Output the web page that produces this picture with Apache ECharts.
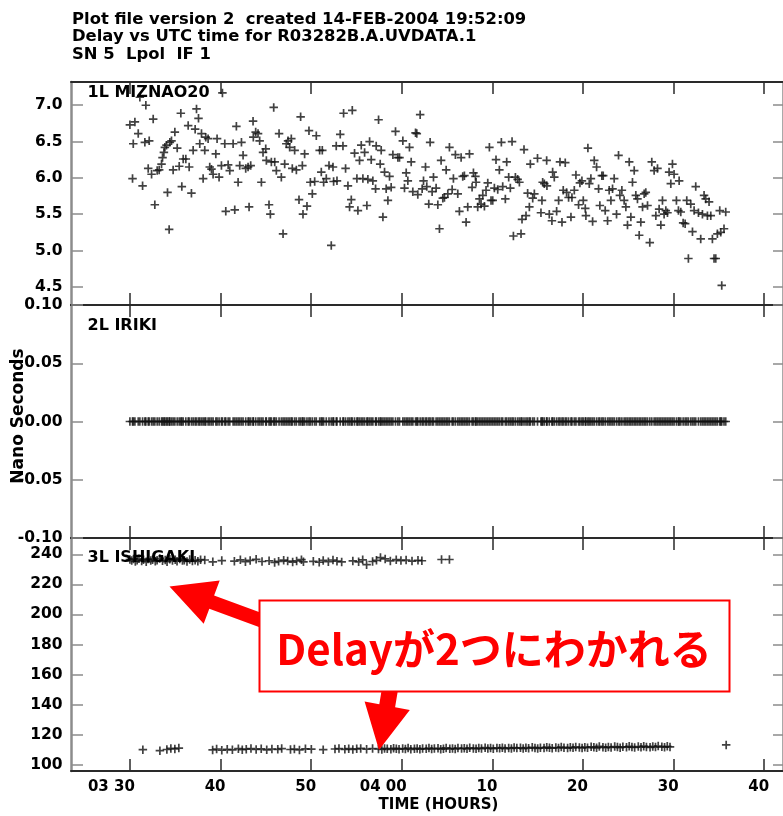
<!DOCTYPE html>
<html>
<head>
<meta charset="utf-8">
<script src="https://cdn.jsdelivr.net/npm/echarts@6/dist/echarts.min.js"></script>
<style>
  html, body { margin: 0; padding: 0; background: #ffffff; }
  #chart { width: 783px; height: 816px; }
</style>
</head>
<body>
<div id="chart"></div>
<script>
// Time axis is in minutes after 03:00 UTC.
const timeTicks = [30, 40, 50, 60, 70, 80, 90, 100];
const timeTickLabels = ['03 30', '40', '50', '04 00', '10', '20', '30', '40'];

// Panel 1: MIZNAO20 delay solutions (ns)
const mizTimes = [
  30.00,30.29,30.37,30.55,30.92,31.10,31.40,31.65,31.76,32.02,
  32.13,32.39,32.57,32.75,33.01,33.23,33.49,33.60,33.75,33.86,
  34.04,34.15,34.33,34.41,34.59,34.77,34.96,35.22,35.44,35.62,
  35.73,35.88,36.17,36.43,36.54,36.79,36.98,37.20,37.35,37.57,
  37.71,37.90,38.08,38.26,38.37,38.63,38.81,39.00,39.18,39.48,
  39.62,39.84,40.10,40.21,40.47,40.58,40.84,41.02,41.39,41.57,
  41.75,41.94,42.12,42.31,42.49,42.78,43.04,43.15,43.33,43.59,
  43.62,43.88,44.14,44.32,44.51,44.69,44.99,45.06,45.35,45.50,
  45.61,45.87,45.98,46.16,46.46,46.71,46.90,47.08,47.26,47.45,
  47.63,47.81,47.92,48.18,48.37,48.66,48.84,49.03,49.10,49.28,
  49.54,49.76,49.91,50.13,50.39,50.57,50.94,51.12,51.23,51.38,
  51.67,51.97,
  52.22,52.41,52.48,52.77,52.85,53.21,53.51,53.58,53.80,54.06,
  54.24,54.43,54.54,54.79,55.05,55.16,55.34,55.53,55.71,55.90,
  56.15,56.26,56.45,56.63,56.81,57.11,57.18,57.44,57.62,57.73,
  57.92,58.10,58.28,58.47,58.65,58.83,59.02,59.31,59.57,59.75,
  60.12,60.30,60.49,60.67,60.85,61.04,61.22,61.52,61.66,61.77,
  62.03,62.25,62.40,62.62,62.76,62.98,63.13,63.35,63.50,63.79,
  63.98,64.16,64.34,64.53,64.71,64.90,65.08,65.26,65.56,65.70,
  65.92,66.18,66.36,66.55,66.73,66.91,67.10,67.28,67.47,67.76,
  67.91,68.13,68.20,68.38,68.57,68.75,68.94,69.12,69.30,69.49,
  69.67,69.85,70.04,70.22,70.40,70.59,70.77,70.99,71.14,71.43,
  71.58,71.80,71.98,72.17,72.32,72.54,72.79,72.98,73.16,73.27,
  73.49,73.71,73.89,74.08,74.19,74.45,74.63,74.98,
  75.36,75.47,75.55,75.73,75.99,76.02,76.28,76.57,76.65,76.83,
  77.09,77.31,77.46,77.68,77.82,78.04,78.19,78.41,78.67,78.78,
  79.04,79.22,79.51,79.66,79.88,80.03,80.25,80.32,80.54,80.69,
  80.87,81.06,81.24,81.50,81.72,81.86,82.08,82.23,82.45,82.71,
  82.89,83.08,83.26,83.44,83.70,83.92,84.07,84.29,84.54,84.73,
  84.91,85.10,85.28,85.46,85.65,85.83,86.01,86.20,86.38,86.57,
  86.75,86.93,87.12,87.37,87.59,87.85,88.04,88.22,88.40,88.59,
  88.77,88.95,89.14,89.32,89.50,89.69,89.87,90.05,90.31,90.53,
  90.61,90.79,91.05,91.27,91.45,91.63,91.89,92.08,92.26,92.44,
  92.74,92.99,93.18,93.36,93.54,93.73,93.91,94.10,94.28,94.46,
  94.65,94.83,95.09,95.20,95.31,95.56,95.75
];
const mizDelay = [
  6.73,5.99,6.47,6.77,6.61,7.11,5.89,6.49,7.00,6.13,
  6.51,6.05,6.81,5.63,6.10,6.11,6.19,6.28,6.35,6.42,
  6.45,5.80,5.29,6.49,6.51,6.11,6.63,6.41,6.16,6.89,
  5.88,6.26,6.26,6.72,6.15,5.79,6.38,6.67,6.95,6.82,
  6.47,6.61,5.99,6.38,6.56,6.54,6.15,6.12,6.05,6.33,
  6.54,6.01,6.17,7.17,6.47,5.54,6.18,6.10,6.47,5.56,
  6.71,5.94,6.17,6.49,6.31,6.13,6.15,5.60,6.17,6.78,
  6.56,6.63,6.61,6.51,5.94,6.35,6.40,6.24,5.63,5.50,
  6.22,6.97,6.22,6.10,6.61,6.01,5.23,6.19,6.47,6.51,
  6.42,6.54,6.13,6.38,6.11,5.70,6.84,6.17,5.50,6.33,
  5.61,6.65,5.94,5.78,5.95,6.58,6.38,6.08,6.38,5.94,
  5.99,6.17,
  5.07,6.15,5.95,6.44,5.96,6.60,6.44,6.89,6.13,5.89,
  5.60,5.70,6.93,6.34,5.99,5.55,6.24,6.45,5.99,6.35,
  5.62,5.98,6.50,6.25,5.96,5.85,6.44,6.80,6.19,6.38,
  5.46,6.08,5.85,5.69,6.02,5.87,6.32,6.64,6.28,6.28,
  6.51,5.86,6.07,5.96,6.42,6.22,5.81,6.62,6.61,5.77,
  6.87,5.85,5.96,6.15,5.88,5.64,6.49,5.81,6.01,5.86,
  5.63,5.30,6.24,5.72,5.73,6.11,5.78,6.42,5.84,5.99,
  6.32,5.78,5.54,6.28,6.02,6.03,5.39,5.60,6.33,5.87,
  6.07,6.02,5.94,5.60,5.71,5.64,5.76,5.61,5.83,5.93,
  6.42,5.69,5.69,5.86,6.25,5.84,6.11,6.49,5.88,5.71,
  6.22,6.01,5.86,6.50,5.20,6.01,5.98,5.94,5.23,5.43,
  6.39,5.48,5.79,5.60,6.19,5.72,5.78,6.27,
  5.52,5.69,5.94,5.92,6.24,5.89,5.50,5.41,6.08,6.01,
  5.54,5.69,6.22,5.39,5.83,6.21,5.80,5.73,5.46,5.73,
  5.83,6.04,5.63,5.93,5.96,5.69,5.58,5.48,6.41,5.92,
  5.99,5.40,6.24,6.15,5.85,5.62,6.03,6.03,5.55,5.41,
  5.83,5.69,5.85,5.99,5.50,6.31,5.76,5.83,5.69,5.60,
  5.35,6.22,5.46,5.94,6.10,5.76,5.71,5.21,5.39,5.60,
  5.78,5.80,5.62,5.11,6.22,6.10,5.48,6.13,5.57,5.35,
  5.69,5.50,5.55,5.52,6.08,5.92,6.19,6.05,5.69,5.55,
  5.96,5.53,5.38,5.37,5.69,4.89,5.64,5.26,5.55,5.88,
  5.52,5.16,5.50,5.76,5.71,5.48,5.67,5.48,5.16,4.89,
  4.89,5.23,5.55,5.25,4.52,5.30,5.53
];

// Panel 2: IRIKI is the reference antenna, so its delay is zero at every solution time
const irikiDelay = 0;

// Panel 3: ISHIGAKI delays split into two groups
const ishiUpperTimes = [
  30.0,30.2,30.4,30.6,30.8,31.0,31.3,31.5,31.8,32.0,
  32.3,32.5,32.8,33.0,33.3,33.6,33.9,34.1,34.4,34.7,
  35.0,35.2,35.5,35.8,36.0,36.3,36.6,36.9,37.2,37.5,
  37.8,38.26,39.15,40.14,41.53,42.19,42.75,43.27,43.93,44.58,
  45.36,45.97,46.41,46.97,47.41,47.96,48.40,48.93,49.15,50.24,
  50.89,51.33,51.90,52.41,52.85,53.37,54.60,55.24,55.69,56.12,
  56.78,57.21,57.65,58.17,58.74,59.39,59.91,60.48,61.13,61.79,
  62.22,64.39,65.26
];
const ishiUpperDelay = [
  236.5,235.8,236.9,235.2,236.1,237.0,235.6,236.3,235.0,236.8,
  235.9,236.4,235.3,236.0,237.2,235.7,236.2,235.1,236.6,235.8,
  236.3,235.4,236.9,235.9,236.1,235.2,236.5,235.6,236.0,235.3,
  236.4,236.2,235.0,235.8,235.4,236.3,235.1,235.9,236.6,235.2,
  235.7,234.6,235.3,236.1,235.5,234.8,235.6,236.4,235.0,235.3,
  234.7,235.9,235.1,236.2,235.4,234.9,235.6,235.0,236.3,233.1,
  235.2,236.0,237.8,236.9,235.6,236.4,235.8,236.2,235.5,236.0,
  235.7,236.5,236.5
];
const ishiLowerTimes = [
  31.43,33.31,34.08,34.52,34.96,35.40,39.13,39.57,40.14,40.74,
  41.31,41.97,42.40,42.84,43.36,43.93,44.49,45.10,45.67,46.32,
  46.75,47.72,48.15,48.71,49.37,50.02,51.33,52.63,53.07,53.72,
  54.15,54.60,55.03,55.47,56.12,56.78,57.43,57.80,58.10,58.40,
  58.80,59.10,59.40,59.70,60.10,60.40,60.70,61.00,61.40,61.70,
  62.00,62.30,62.70,63.00,63.30,63.60,64.00,64.30,64.60,64.90,
  65.30,65.60,65.90,66.20,66.60,66.90,67.20,67.50,67.90,68.20,
  68.50,68.80,69.20,69.50,69.80,70.10,70.50,70.80,71.10,71.40,
  71.80,72.10,72.40,72.70,73.10,73.40,73.70,74.00,74.40,74.70,
  75.00,75.30,75.70,76.00,76.30,76.60,77.00,77.30,77.60,77.90,
  78.30,78.60,78.90,79.20,79.60,79.90,80.20,80.50,80.90,81.20,
  81.50,81.80,82.20,82.50,82.80,83.10,83.50,83.80,84.10,84.40,
  84.80,85.10,85.40,85.70,86.10,86.40,86.70,87.00,87.40,87.70,
  88.00,88.30,88.70,89.00,89.30,89.60,95.80
];
const ishiLowerDelay = [
  110.2,109.5,110.3,111.0,110.6,111.2,110.0,110.6,109.8,110.4,
  110.1,110.8,110.2,110.5,110.9,110.3,110.7,110.1,110.6,110.4,
  110.9,110.3,110.6,110.0,110.7,110.5,110.2,110.6,110.9,110.4,
  110.8,110.3,110.7,111.0,110.5,110.9,110.6,110.3,111.0,110.7,
  110.4,111.1,110.8,110.5,110.9,110.6,111.2,110.4,110.8,111.0,
  110.5,110.9,110.7,111.2,110.6,110.9,111.1,110.5,110.8,111.3,
  110.7,111.0,110.6,111.2,110.9,111.1,110.7,111.4,111.0,110.8,
  111.2,110.9,111.5,111.0,111.2,110.8,111.3,111.1,111.5,110.9,
  111.3,111.0,111.6,111.2,111.4,110.9,111.5,111.1,111.7,111.3,
  111.0,111.5,111.2,111.8,111.4,111.1,111.6,111.3,111.9,111.5,
  111.2,111.7,111.4,112.0,111.6,111.3,111.8,111.5,112.1,111.7,
  111.4,112.3,111.8,111.5,112.0,111.6,112.2,111.9,111.5,112.1,
  111.8,112.4,111.9,111.6,112.2,111.8,112.5,112.0,111.7,112.3,
  111.9,112.6,112.1,111.8,112.4,112.0,113.3
];

// Y tick values of each panel
const mizTicks = [4.5, 5.0, 5.5, 6.0, 6.5, 7.0];
const irikiTicks = [-0.10, -0.05, 0.00, 0.05, 0.10];
const ishiTicks = [100, 120, 140, 160, 180, 200, 220, 240];

const X_MIN = 23.5, X_MAX = 102.07;
const LABEL_SHIFT = 0.55;   // minute labels sit slightly right of their tick
const PLUS = 'path://M3.2,0H4.8V3.2H8V4.8H4.8V8H3.2V4.8H0V3.2H3.2Z';
const FONT = 'DejaVu Sans';
const AXIS_DARK = '#2a2a2a';
const AXIS_GREY = '#8c8c8c';

const panels = [
  { top: 82,  height: 223, min: 4.25, max: 7.32,  ticks: mizTicks,   digits: 1 },
  { top: 305, height: 233, min: -0.1, max: 0.1,   ticks: irikiTicks, digits: 2 },
  { top: 538, height: 233, min: 96.0, max: 250.8, ticks: ishiTicks,  digits: 0 }
];

const grid = panels.map(p => ({ left: 71, top: p.top, width: 713, height: p.height }));

const xAxis = [];
const yAxis = [];
panels.forEach((p, g) => {
  ['bottom', 'top'].forEach(pos => {
    xAxis.push({
      gridIndex: g, type: 'value', position: pos, min: X_MIN, max: X_MAX,
      axisLine: { show: true, onZero: false, lineStyle: { color: AXIS_DARK, width: 2 } },
      axisTick: { show: true, inside: true, length: 12, customValues: timeTicks,
                  lineStyle: { color: AXIS_DARK, width: 1.5 } },
      axisLabel: { show: false },
      splitLine: { show: false }
    });
  });
  yAxis.push({
    gridIndex: g, type: 'value', position: 'left', min: p.min, max: p.max,
    axisLine: { show: true, onZero: false, lineStyle: { color: AXIS_GREY, width: 2.5 } },
    axisTick: { show: true, inside: true, length: 12, customValues: p.ticks,
                lineStyle: { color: AXIS_GREY, width: 1.5 } },
    axisLabel: { show: true, customValues: p.ticks, margin: 8.5,
                 formatter: v => Number(v).toFixed(p.digits),
                 fontFamily: FONT, fontWeight: 'bold', fontSize: 15.5, color: '#000' },
    splitLine: { show: false }
  });
  yAxis.push({
    gridIndex: g, type: 'value', position: 'right', min: p.min, max: p.max,
    axisLine: { show: true, onZero: false, lineStyle: { color: AXIS_GREY, width: 2.5 } },
    axisTick: { show: true, inside: true, length: 10, customValues: p.ticks,
                lineStyle: { color: AXIS_GREY, width: 1.5 } },
    axisLabel: { show: false },
    splitLine: { show: false }
  });
});
// time labels under the bottom panel
xAxis.push({
  gridIndex: 2, type: 'value', position: 'bottom',
  min: X_MIN - LABEL_SHIFT, max: X_MAX - LABEL_SHIFT,
  axisLine: { show: false }, axisTick: { show: false }, splitLine: { show: false },
  axisLabel: {
    show: true, customValues: timeTicks, margin: 9, align: 'right',
    formatter: v => timeTickLabels[timeTicks.indexOf(Math.round(v))],
    fontFamily: FONT, fontWeight: 'bold', fontSize: 15, color: '#000'
  }
});

const markerStyle = { color: '#111111' };
const scatter = (xi, yi, data) => ({
  type: 'scatter', xAxisIndex: xi, yAxisIndex: yi, symbol: PLUS, symbolSize: 8.5,
  itemStyle: markerStyle, silent: true, data: data
});

const series = [
  scatter(0, 0, mizTimes.map((t, i) => [t, mizDelay[i]])),
  scatter(2, 2, mizTimes.map(t => [t, irikiDelay])),
  scatter(4, 4, ishiUpperTimes.map((t, i) => [t, ishiUpperDelay[i]])),
  scatter(4, 4, ishiLowerTimes.map((t, i) => [t, ishiLowerDelay[i]]))
];

const txt = (text, x, y, size, extra) => Object.assign({
  type: 'text', z: 100, x: x, y: y,
  style: Object.assign({ text: text, fill: '#000', fontFamily: FONT, fontWeight: 'bold',
                         fontSize: size, align: 'left', verticalAlign: 'middle' }, extra || {})
});

const RED = '#ff0000';
const graphic = [
  txt('Plot file version 2  created 14-FEB-2004 19:52:09', 72, 19.6, 16.4),
  txt('Delay vs UTC time for R03282B.A.UVDATA.1', 72, 36.6, 16.4),
  txt('SN 5  Lpol  IF 1', 72, 54.4, 16.4),
  txt('1L MIZNAO20', 87.5, 92.6, 16),
  txt('2L IRIKI', 87.5, 325.9, 16),
  txt('3L ISHIGAKI', 87.5, 558.2, 16),
  txt('TIME (HOURS)', 438.5, 805, 15, { align: 'center' }),
  Object.assign(txt('Nano Seconds', 0, 0, 17, { align: 'center' }), { x: 19, y: 416, rotation: Math.PI / 2 }),
  // arrow toward the upper group
  { type: 'polygon', z: 100, shape: { points: [
      [169.5, 586.5], [219.7, 580.5], [214.1, 595.5], [264.4, 614.0],
      [259.6, 627.2], [209.3, 608.7], [203.7, 623.7] ] },
    style: { fill: RED } },
  // arrow toward the lower group
  { type: 'polygon', z: 100, shape: { points: [
      [379, 750], [409.8, 710.0], [395.1, 707.3], [398.2, 688.6],
      [382.4, 685.6], [379.3, 704.3], [364.6, 701.6] ] },
    style: { fill: RED } },
  { type: 'rect', z: 101, shape: { x: 259.5, y: 600.5, width: 470, height: 91 },
    style: { fill: '#ffffff', stroke: RED, lineWidth: 2 } },
  { type: 'text', z: 102, x: 494, y: 649,
    style: { text: 'Delayが2つにわかれる', fill: RED, fontFamily: '"Noto Sans CJK JP"',
             fontWeight: 'bold', fontSize: 42, align: 'center', verticalAlign: 'middle' } }
];

const chart = echarts.init(document.getElementById('chart'), null, { renderer: 'canvas' });
chart.setOption({
  animation: false,
  backgroundColor: '#ffffff',
  grid: grid,
  xAxis: xAxis,
  yAxis: yAxis,
  series: series,
  graphic: graphic
});
</script>
</body>
</html>
